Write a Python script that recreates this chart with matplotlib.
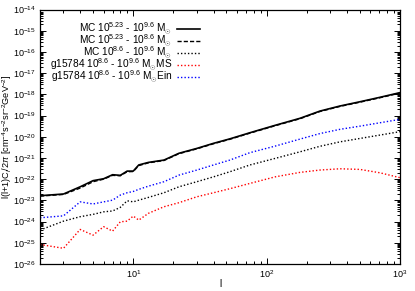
import numpy as np
import matplotlib
matplotlib.use('Agg')
import matplotlib.pyplot as plt
from matplotlib.ticker import LogLocator, NullFormatter

plt.rcParams['font.family'] = ['Liberation Sans', 'DejaVu Sans']
plt.rcParams['mathtext.fontset'] = 'custom'
plt.rcParams['mathtext.rm'] = 'Liberation Sans'
plt.rcParams['mathtext.it'] = 'Liberation Sans:italic'
plt.rcParams['mathtext.bf'] = 'Liberation Sans:bold'

ell = [2, 3, 4, 5, 6, 7, 8, 9, 10, 11, 13, 17, 22, 30, 40, 53, 75, 116, 178,
       251, 355, 501, 708, 1000]
# log10 of l(l+1)C_l/2pi
mc_523_96 = [-22.78, -22.70, -22.36, -22.07, -21.98, -21.79, -21.82, -21.62, -21.62,
             -21.33, -21.21, -21.10, -20.78, -20.55, -20.31, -20.10, -19.81, -19.46,
             -19.13, -18.79, -18.55, -18.35, -18.14, -17.92]
mc_523_86 = [-22.80, -22.72, -22.42, -22.12, -22.00, -21.82, -21.84, -21.65, -21.64,
             -21.36, -21.23, -21.12, -20.80, -20.57, -20.33, -20.12, -19.83, -19.48,
             -19.15, -18.81, -18.57, -18.37, -18.16, -17.94]
mc_86_96 = [-24.40, -23.98, -23.77, -23.66, -23.54, -23.50, -23.33, -23.02, -23.07,
            -22.99, -22.86, -22.64, -22.36, -22.12, -21.89, -21.65, -21.33, -21.02,
            -20.71, -20.45, -20.24, -20.08, -19.92, -19.76]
g_ms = [-25.08, -25.26, -24.37, -24.64, -24.24, -24.45, -24.01, -23.98, -23.74,
        -23.93, -23.61, -23.30, -23.11, -22.83, -22.64, -22.45, -22.20, -21.89,
        -21.68, -21.57, -21.51, -21.54, -21.70, -21.93]
g_ein = [-23.82, -23.73, -23.07, -23.17, -23.07, -22.99, -22.75, -22.64, -22.58,
         -22.48, -22.33, -22.12, -21.81, -21.57, -21.33, -21.10, -20.75, -20.44,
         -20.11, -19.85, -19.65, -19.50, -19.34, -19.18]

labels = [
    r'MC 10$^{5.23}$ - 10$^{9.6}$ M$_{\odot}$',
    r'MC 10$^{5.23}$ - 10$^{8.6}$ M$_{\odot}$',
    r'MC 10$^{8.6}$ - 10$^{9.6}$ M$_{\odot}$',
    r'g15784 10$^{8.6}$ - 10$^{9.6}$ M$_{\odot}$MS',
    r'g15784 10$^{8.6}$ - 10$^{9.6}$ M$_{\odot}$Ein',
]
series = [mc_523_96, mc_523_86, mc_86_96, g_ms, g_ein]
colors = ['black', 'black', 'black', 'red', 'blue']
styles = ['-', (0, (3, 1.5)), (0, (1, 1.5)), (0, (1, 1.5)), (0, (1, 1.5))]
widths = [1.2, 1.0, 1.0, 1.0, 1.0]

fig = plt.figure(figsize=(4.15, 2.91), dpi=100)
ax = fig.add_axes([40/415, 27/291, 360/415, 254.5/291])

for vals, c, ls, lw in zip(series, colors, styles, widths):
    ax.plot(ell, 10.0**np.array(vals), color=c, linestyle=ls, lw=lw)

ax.set_xscale('log')
ax.set_yscale('log')
ax.set_xlim(2, 1000)
ax.set_ylim(1e-26, 1e-14)

ax.yaxis.set_major_locator(LogLocator(base=10, numticks=30))
ax.yaxis.set_minor_locator(LogLocator(base=10, subs=np.arange(2, 10), numticks=100))
ax.yaxis.set_minor_formatter(NullFormatter())
ax.xaxis.set_major_locator(LogLocator(base=10, numticks=10))
ax.xaxis.set_minor_locator(LogLocator(base=10, subs=np.arange(2, 10), numticks=100))
ax.xaxis.set_minor_formatter(NullFormatter())

ax.tick_params(which='both', direction='in', top=True, right=True, labelsize=6.5,
               width=0.7, pad=3)
ax.tick_params(which='major', length=4.5)
ax.tick_params(which='minor', length=2.5)
for s in ax.spines.values():
    s.set_linewidth(0.9)

ax.set_xlabel('l', fontsize=7)
ax.set_ylabel(r'l(l+1)C$_l$/2$\pi$ [cm$^{-4}$s$^{-2}$sr$^{-2}$GeV$^{-2}$]', fontsize=6.6)
ax.xaxis.set_label_coords(0.5, -0.058)
ax.yaxis.set_label_coords(-0.072, 0.5)

# gnuplot-style key: right-aligned text, sample line on the right
y0 = 0.922
dy = 12 / 254.5
for i, (lab, c, ls, lw) in enumerate(zip(labels, colors, styles, widths)):
    yy = y0 - i * dy
    ax.text(0.368, yy, lab, ha='right', va='center', fontsize=7.3,
            transform=ax.transAxes)
    ax.plot([0.380, 0.445], [yy, yy], color=c, linestyle=ls, lw=lw,
            transform=ax.transAxes)

fig.savefig('out.png', dpi=100)
